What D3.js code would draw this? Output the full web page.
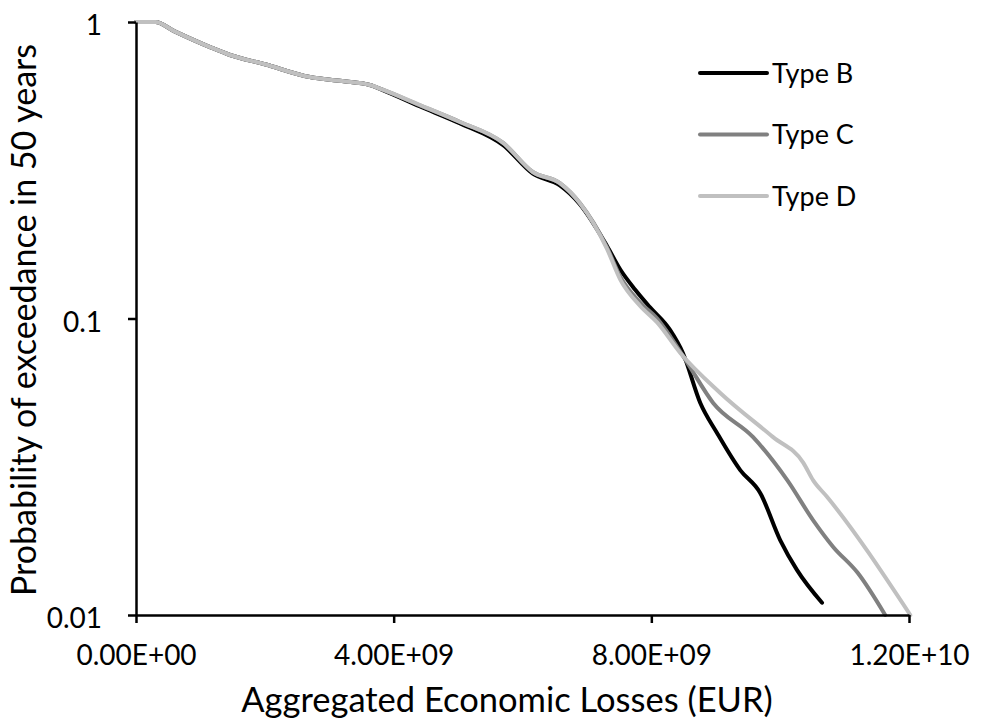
<!DOCTYPE html>
<html>
<head>
<meta charset="utf-8">
<script src="https://cdn.jsdelivr.net/npm/d3@7"></script>
<style>
  html, body { margin: 0; padding: 0; background: #ffffff; }
  svg { display: block; font-family: Lato, "Open Sans", sans-serif; }
</style>
</head>
<body>
<svg id="chart" width="993" height="724"></svg>
<script>
// Exceedance curves: [aggregated loss in EUR, probability of exceedance in 50 years]
const typeB = [
  [0, 1.0], [0.3e9, 1.0], [0.6e9, 0.93], [1.15e9, 0.823], [1.46e9, 0.774],
  [2.0e9, 0.72], [2.7e9, 0.652], [3.2e9, 0.632], [3.63e9, 0.613], [3.84e9, 0.588],
  [4.4e9, 0.52], [5.03e9, 0.455], [5.7e9, 0.384], [6.16e9, 0.308], [6.58e9, 0.281],
  [6.89e9, 0.243], [7.31e9, 0.176], [7.52e9, 0.146], [7.75e9, 0.125], [7.98e9, 0.109],
  [8.29e9, 0.0915], [8.49e9, 0.0765], [8.76e9, 0.0519], [9.02e9, 0.0411], [9.38e9, 0.0308],
  [9.69e9, 0.0258], [10.0e9, 0.0179], [10.26e9, 0.0142], [10.65e9, 0.011]
];
const typeC = [
  [0, 1.0], [0.3e9, 1.0], [0.6e9, 0.93], [1.15e9, 0.823], [1.46e9, 0.774],
  [2.0e9, 0.72], [2.7e9, 0.652], [3.2e9, 0.632], [3.63e9, 0.613], [3.84e9, 0.59],
  [4.4e9, 0.524], [5.03e9, 0.46], [5.7e9, 0.391], [6.16e9, 0.312], [6.58e9, 0.286],
  [6.89e9, 0.245], [7.31e9, 0.174], [7.52e9, 0.138], [7.83e9, 0.113], [8.09e9, 0.1],
  [8.3e9, 0.0866], [8.56e9, 0.0708], [8.96e9, 0.0519], [9.58e9, 0.0398], [10.11e9, 0.0285],
  [10.51e9, 0.0209], [10.82e9, 0.017], [11.2e9, 0.0139], [11.63e9, 0.01]
];
const typeD = [
  [0, 1.0], [0.3e9, 1.0], [0.6e9, 0.93], [1.15e9, 0.823], [1.46e9, 0.774],
  [2.0e9, 0.72], [2.7e9, 0.652], [3.2e9, 0.632], [3.63e9, 0.613], [3.84e9, 0.59],
  [4.4e9, 0.526], [5.03e9, 0.46], [5.7e9, 0.391], [6.16e9, 0.312], [6.58e9, 0.286],
  [6.89e9, 0.245], [7.31e9, 0.172], [7.52e9, 0.135], [7.83e9, 0.11], [8.09e9, 0.097],
  [8.45e9, 0.0765], [9.07e9, 0.0561], [9.89e9, 0.0398], [10.36e9, 0.0326], [10.51e9, 0.0285],
  [10.73e9, 0.025], [12.02e9, 0.01]
];

const seriesNames = ["Type B", "Type C", "Type D"];
const seriesColors = ["#000000", "#808080", "#c0c0c0"];

const xTickValues = [0, 4e9, 8e9, 1.2e10];
const xTickLabels = ["0.00E+00", "4.00E+09", "8.00E+09", "1.20E+10"];
const yTickValues = [1, 0.1, 0.01];
const yTickLabels = ["1", "0.1", "0.01"];

const xTitle = "Aggregated Economic Losses (EUR)";
const yTitle = "Probability of exceedance in 50 years";

const svg = d3.select("#chart");

const x = d3.scaleLinear().domain([0, 1.2e10]).range([136, 909]);
const y = d3.scaleLog().domain([0.01, 1]).range([615, 22]);

// Curves first, axes drawn on top
const line = d3.line()
  .x(d => x(d[0]))
  .y(d => y(d[1]))
  .curve(d3.curveMonotoneX);

const allSeries = [typeB, typeC, typeD];
allSeries.forEach((data, i) => {
  svg.append("path")
    .datum(data)
    .attr("fill", "none")
    .attr("stroke", seriesColors[i])
    .attr("stroke-width", 4)
    .attr("stroke-linecap", "round")
    .attr("stroke-linejoin", "round")
    .attr("d", line);
});

// Axes
const xAxis = d3.axisBottom(x)
  .tickValues(xTickValues)
  .tickFormat((d, i) => xTickLabels[i])
  .tickSizeInner(8)
  .tickSizeOuter(0)
  .tickPadding(22);

const yAxis = d3.axisLeft(y)
  .tickValues(yTickValues)
  .tickFormat((d, i) => yTickLabels[i])
  .tickSizeInner(8)
  .tickSizeOuter(0)
  .tickPadding(26);

const gx = svg.append("g").attr("transform", "translate(0,615)").call(xAxis);
const gy = svg.append("g").attr("transform", "translate(136,0)").call(yAxis);

[gx, gy].forEach(g => {
  g.select(".domain").attr("stroke", "#000").attr("stroke-width", 2.5);
  g.selectAll(".tick line").attr("stroke", "#000").attr("stroke-width", 2.5);
  g.selectAll(".tick text")
    .attr("fill", "#000")
    .style("font-family", "Lato, 'Open Sans', sans-serif")
    .style("font-size", "28px");
});
gy.selectAll(".tick text").attr("dy", "0.45em");

// Axis titles
svg.append("text")
  .attr("x", 507)
  .attr("y", 712)
  .attr("text-anchor", "middle")
  .style("font-size", "34.5px")
  .attr("fill", "#000")
  .text(xTitle);

svg.append("text")
  .attr("transform", "translate(36,320) rotate(-90)")
  .attr("text-anchor", "middle")
  .style("font-size", "34px")
  .attr("fill", "#000")
  .text(yTitle);

// Legend
const legend = svg.append("g");
seriesNames.forEach((name, i) => {
  const ly = 73 + i * 61.5;
  legend.append("line")
    .attr("x1", 700).attr("x2", 767)
    .attr("y1", ly).attr("y2", ly)
    .attr("stroke", seriesColors[i])
    .attr("stroke-width", 4)
    .attr("stroke-linecap", "round");
  legend.append("text")
    .attr("x", 772)
    .attr("y", ly)
    .attr("dy", "0.36em")
    .style("font-size", "27px")
    .attr("fill", "#000")
    .text(name);
});
</script>
</body>
</html>
